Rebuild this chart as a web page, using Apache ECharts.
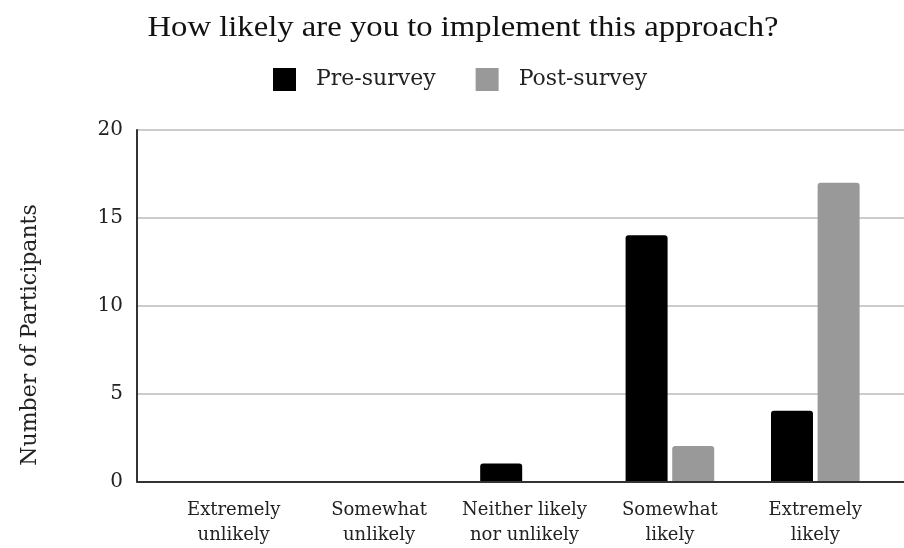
<!DOCTYPE html>
<html>
<head>
<meta charset="utf-8">
<script src="https://cdn.jsdelivr.net/npm/echarts@6/dist/echarts.min.js"></script>
<style>html,body{margin:0;padding:0;background:#fff}#c{width:904px;height:548px}</style>
</head>
<body>
<div id="c"></div>
<script>
const categories = ['Extremely\nunlikely', 'Somewhat\nunlikely', 'Neither likely\nnor unlikely', 'Somewhat\nlikely', 'Extremely\nlikely'];
const preSurvey = [0, 0, 1, 14, 4];
const postSurvey = [0, 0, 0, 2, 17];
const yTicks = [0, 5, 10, 15, 20];

const FONT = 'DejaVu Serif';
const chart = echarts.init(document.getElementById('c'));
chart.setOption({
  backgroundColor: '#fff',
  animation: false,
  legend: {
    left: 268, top: 63,
    itemWidth: 23, itemHeight: 23, itemGap: 40,
    icon: 'rect',
    textStyle: { fontFamily: FONT, fontSize: 22, color: '#222', padding: [0, 0, 0, 15] },
    data: ['Pre-survey', 'Post-survey']
  },
  graphic: [{
    type: 'text',
    x: 463, y: 28,
    scaleX: 1.09,
    style: { text: 'How likely are you to implement this approach?', fontFamily: 'Liberation Serif', fontSize: 30, fill: '#111', align: 'center', verticalAlign: 'middle' }
  }, {
    type: 'text',
    x: 30, y: 335,
    rotation: Math.PI / 2,
    style: { text: 'Number of Participants', fontFamily: FONT, fontSize: 22, fill: '#222', align: 'center', verticalAlign: 'middle' }
  }],
  grid: [
    { left: 137, right: 0, top: 130, bottom: 66.5 },
    { left: 161, right: 16, top: 130, bottom: 66.5 }
  ],
  xAxis: [
    { gridIndex: 0, type: 'value', min: 0, max: 1,
      axisLine: { show: true, lineStyle: { color: '#333', width: 2 } },
      axisTick: { show: false }, axisLabel: { show: false }, splitLine: { show: false } },
    { gridIndex: 1, type: 'category', data: categories,
      axisLine: { show: false }, axisTick: { show: false },
      axisLabel: { fontFamily: FONT, fontSize: 18, color: '#222', lineHeight: 25, margin: 17, interval: 0 } }
  ],
  yAxis: [
    { gridIndex: 0, type: 'value', min: 0, max: 20, interval: 5,
      axisLine: { show: true, lineStyle: { color: '#333', width: 2 } },
      axisTick: { show: false },
      axisLabel: { fontFamily: FONT, fontSize: 20, color: '#222', margin: 14,
        formatter: v => yTicks.includes(v) ? String(v) : '' },
      splitLine: { show: true, lineStyle: { color: '#ccc', width: 2 } } },
    { gridIndex: 1, type: 'value', min: 0, max: 20, interval: 5, show: false }
  ],
  series: [
    { name: 'Pre-survey', type: 'bar', xAxisIndex: 1, yAxisIndex: 1, data: preSurvey,
      barWidth: 42, barGap: '11%', itemStyle: { color: '#000', borderRadius: [3, 3, 0, 0] } },
    { name: 'Post-survey', type: 'bar', xAxisIndex: 1, yAxisIndex: 1, data: postSurvey,
      barWidth: 42, barGap: '11%', itemStyle: { color: '#999', borderRadius: [3, 3, 0, 0] } }
  ]
});
</script>
</body>
</html>
